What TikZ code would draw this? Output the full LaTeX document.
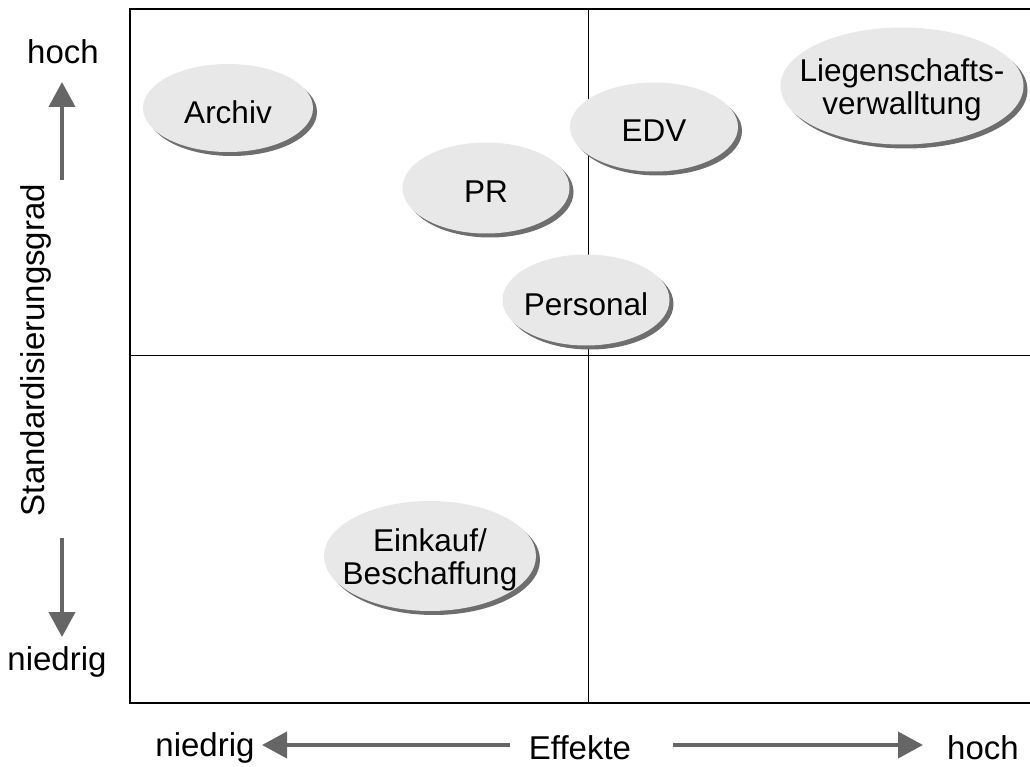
\documentclass[tikz,border=0pt]{standalone}
\usepackage{fontspec}
\setmainfont{Liberation Sans}
\usetikzlibrary{shapes.geometric,shadows,arrows.meta}
\definecolor{bubble}{HTML}{E8E8E8}
\definecolor{bubbleshade}{HTML}{6E6E6E}
\definecolor{axisgray}{HTML}{666666}
\tikzset{
  txt/.style={font=\fontsize{31.5}{33}\selectfont, inner sep=0pt, align=center},
  field/.style={ellipse, fill=bubble, inner sep=0pt,
    general shadow={shadow xshift=4pt, shadow yshift=-4pt,
      fill=bubbleshade},
    label={[txt, yshift=-4pt]center:#1}},
  lbl/.style={font=\fontsize{33}{35}\selectfont, inner sep=0pt},
  axisarrow/.style={draw=axisgray, line width=4pt,
    -{Triangle[length=25pt,width=26pt]}},
}
\begin{document}
\begin{tikzpicture}[x=1pt,y=-1pt]
\useasboundingbox (0,0) rectangle (1030,767);
% quadrant frame
\begin{scope}
\clip (0,0) rectangle (1030,767);
\draw[line width=1.3pt] (130,9) rectangle (1040,703);
\draw[line width=0.9pt] (588,9) -- (588,703);
\draw[line width=0.9pt] (130,355) -- (1040,355);
\end{scope}
% functional areas
\node[field={Archiv}, minimum width=170pt, minimum height=88pt] (archiv) at (228,108) {};
\node[field={Liegenschafts-\\verwalltung}, minimum width=243pt, minimum height=117pt] (liegen) at (902,86) {};
\node[field={EDV}, minimum width=168pt, minimum height=89pt] (edv) at (654,127) {};
\node[field={PR}, minimum width=167pt, minimum height=91pt] (pr) at (486,188) {};
\node[field={Personal}, minimum width=167pt, minimum height=91pt] (personal) at (586,300) {};
\node[field={Einkauf/\\Beschaffung}, minimum width=212pt, minimum height=110pt] (einkauf) at (430,556) {};
% vertical axis
\node[lbl] (yhigh) at (63,52) {hoch};
\node[lbl] (ylow) at (57,662) {niedrig};
\node[lbl, rotate=90] (ytitle) at (36,350) {Standardisierungsgrad};
\coordinate (yup0) at (62,180);
\coordinate (yup1) at (62,82);
\coordinate (ydn0) at (62,538);
\coordinate (ydn1) at (62,637);
\draw[axisarrow] (yup0) -- (yup1);
\draw[axisarrow] (ydn0) -- (ydn1);
% horizontal axis
\node[lbl] (xlow) at (205,748) {niedrig};
\node[lbl] (xtitle) at (580,748) {Effekte};
\node[lbl] (xhigh) at (983,748) {hoch};
\coordinate (xl0) at (510,745);
\coordinate (xl1) at (262,745);
\coordinate (xr0) at (673,745);
\coordinate (xr1) at (923,745);
\draw[axisarrow] (xl0) -- (xl1);
\draw[axisarrow] (xr0) -- (xr1);
\end{tikzpicture}
\end{document}
